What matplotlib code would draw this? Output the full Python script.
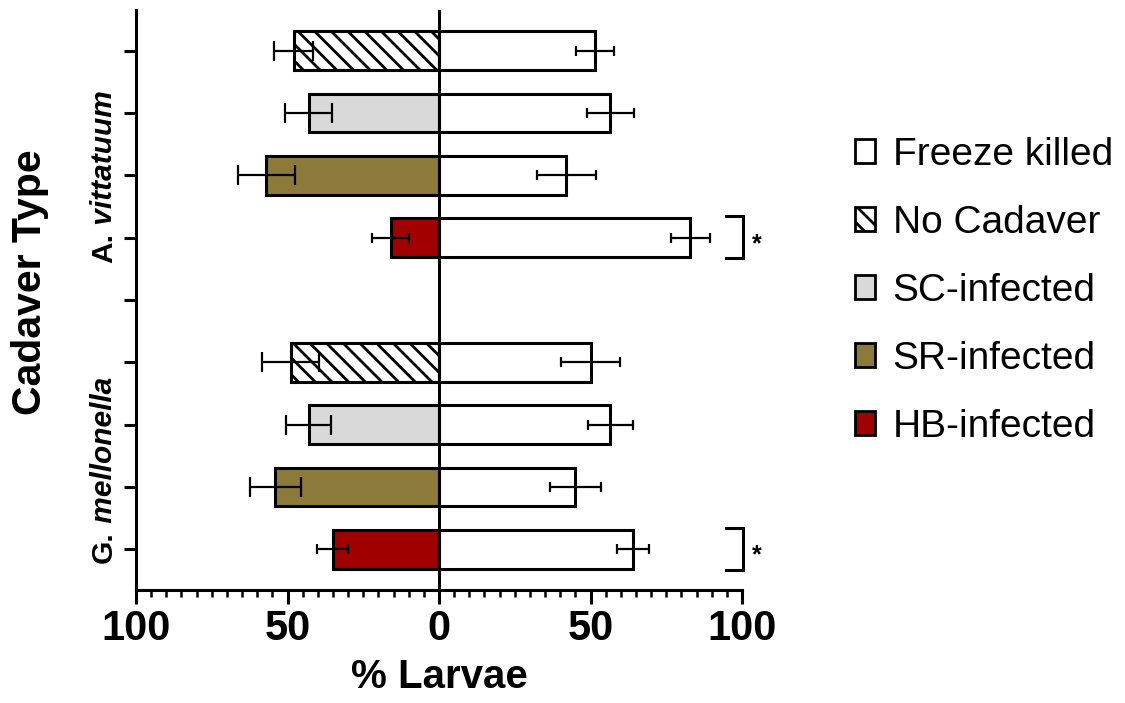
import numpy as np
import matplotlib
matplotlib.use("Agg")
import matplotlib.pyplot as plt
from matplotlib.patches import Patch

#-----------------------------------------------------------------------------#
# DATA
#-----------------------------------------------------------------------------#
species = ["A.", "G."]
species_rest = ["vittatuum", "mellonella"]
cadavers = ["No Cadaver", "SC-infected", "SR-infected", "HB-infected"]

# % larvae choosing the infected / no-cadaver side (drawn to the left)
treated_A = [48, 43, 57, 16]
treated_A_err = [6.4, 7.7, 9.5, 6.2]
treated_G = [49, 43, 54, 35]
treated_G_err = [9.5, 7.5, 8.5, 5.1]

# % larvae choosing the freeze killed cadaver (drawn to the right)
freeze_A = [51.5, 56.5, 42, 83]
freeze_A_err = [6.3, 7.8, 9.8, 6.3]
freeze_G = [50, 56.5, 45, 64]
freeze_G_err = [9.6, 7.4, 8.4, 5.2]

signif_A = [False, False, False, True]
signif_G = [False, False, False, True]

xticks = [-100, -50, 0, 50, 100]
xticklabels = ["100", "50", "0", "50", "100"]

#-----------------------------------------------------------------------------#
# STYLE
#-----------------------------------------------------------------------------#
colors = {"No Cadaver": "white", "SC-infected": "#d9d9d9",
          "SR-infected": "#8c7a3b", "HB-infected": "#a00000"}
hatches = {"No Cadaver": "\\\\", "SC-infected": "", "SR-infected": "",
           "HB-infected": ""}
left_caps = [7, 7, 7, 3.5]     # caps on the left side are bigger in the fig

plt.rcParams["font.family"] = ["Liberation Sans", "DejaVu Sans"]
plt.rcParams["hatch.linewidth"] = 2.0
LW = 2.2

fig = plt.figure(figsize=(11.25, 7.03), dpi=100)
ax = fig.add_axes([136/1125, 1-590/703, (742-136)/1125, (590-10)/703])

# row positions: group A on rows 0-3, gap at 4, group G on rows 5-8
rows = [np.arange(4), np.arange(4) + 5]
treated = [treated_A, treated_G]
treated_err = [treated_A_err, treated_G_err]
freeze = [freeze_A, freeze_G]
freeze_err = [freeze_A_err, freeze_G_err]
signif = [signif_A, signif_G]

for g in range(2):
    y = rows[g]
    left = ax.barh(y, -np.array(treated[g]), height=0.62,
                   color=[colors[c] for c in cadavers],
                   edgecolor="black", linewidth=LW, zorder=2)
    for p, c in zip(left, cadavers):
        p.set_hatch(hatches[c])
    ax.barh(y, freeze[g], height=0.62, color="white",
            edgecolor="black", linewidth=LW, zorder=2)
    for i in range(4):
        ax.errorbar(-treated[g][i], y[i], xerr=treated_err[g][i], fmt="none",
                    ecolor="black", elinewidth=1.6, capsize=left_caps[i],
                    capthick=1.6, zorder=4)
    ax.errorbar(freeze[g], y, xerr=freeze_err[g], fmt="none",
                ecolor="black", elinewidth=1.6, capsize=3.5,
                capthick=1.6, zorder=4)
    # significance brackets
    for i in range(4):
        if signif[g][i]:
            yc = y[i]
            ax.plot([94.7, 100.4, 100.4, 94.7],
                    [yc-0.35, yc-0.35, yc+0.33, yc+0.33],
                    color="black", lw=LW, clip_on=False,
                    solid_joinstyle="miter")
            ax.text(105, yc+0.1, "*", fontsize=18, ha="center",
                    va="center", fontweight="bold")

ax.axvline(0, color="black", lw=LW, zorder=3)

ax.set_xlim(-100, 100)
ax.set_ylim(8.65, -0.65)
for s in ["top", "right"]:
    ax.spines[s].set_visible(False)
for s in ["left", "bottom"]:
    ax.spines[s].set_linewidth(LW)

ax.set_yticks(np.arange(9))
ax.set_yticklabels([])
ax.tick_params(axis="y", length=9, width=LW)
ax.set_xticks(xticks)
ax.set_xticklabels(xticklabels, fontsize=30, fontweight="bold")
ax.set_xticks(np.arange(-100, 101, 5), minor=True)
ax.tick_params(axis="x", which="major", length=10, width=LW, pad=4)
ax.tick_params(axis="x", which="minor", length=5, width=1.8)
ax.set_xlabel("% Larvae", fontsize=29, fontweight="bold", labelpad=6)

fig.text(30/1125, 1-282/703, "Cadaver Type", rotation=90, fontsize=29.5,
         fontweight="bold", ha="center", va="center")

# species labels: genus initial upright, rest italic
bottoms = [263, 563]
for g in range(2):
    t1 = fig.text(104/1125, 1-bottoms[g]/703, species[g], rotation=90,
                  fontsize=21.5, fontweight="bold", ha="center", va="bottom")
    ax.annotate(" " + species_rest[g], xy=(0.5, 1), xycoords=t1,
                rotation=90, fontsize=21.5, fontweight="bold",
                fontstyle="italic", ha="center", va="bottom",
                annotation_clip=False)

handles = [Patch(facecolor="white", edgecolor="black", lw=2)]
for c in cadavers:
    handles.append(Patch(facecolor=colors[c], edgecolor="black", lw=2,
                         hatch=hatches[c]))
labels = ["Freeze killed"] + cadavers
fig.legend(handles, labels, loc="upper left",
           bbox_to_anchor=(855/1125, 1-137/703), frameon=False,
           fontsize=28, handlelength=0.51, handleheight=0.57,
           handletextpad=0.46, labelspacing=0.82, borderpad=0,
           borderaxespad=0)

fig.savefig("out.png", dpi=100)
